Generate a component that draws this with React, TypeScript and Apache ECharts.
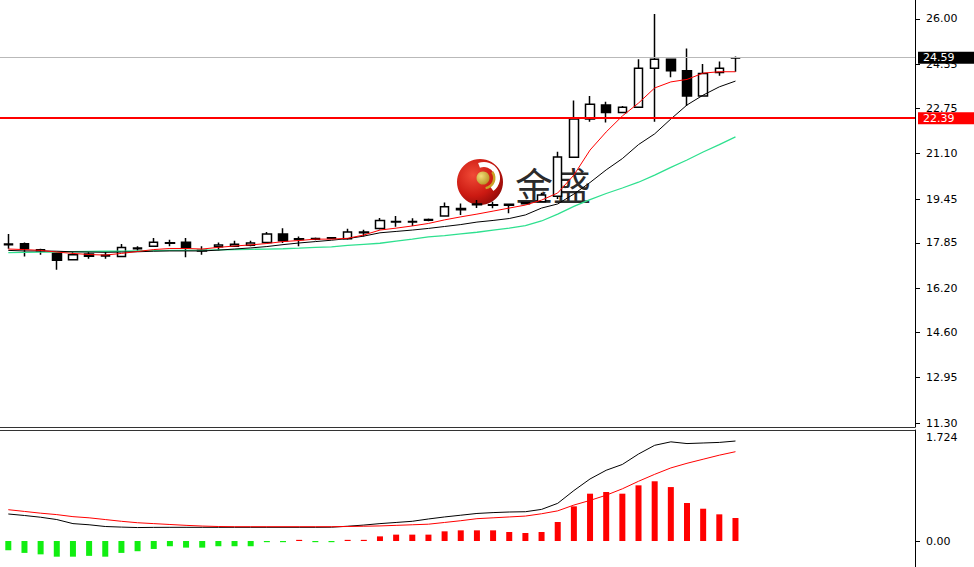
import React, { useEffect, useRef } from 'react';
import * as echarts from 'echarts';

// ---- Data ----
const OPEN = [17.79,17.82,17.60,17.48,17.24,17.45,17.40,17.36,17.64,17.73,17.84,17.88,17.56,17.71,17.73,17.77,17.87,18.18,17.98,17.99,18.02,18.00,18.22,18.38,18.61,18.61,18.68,18.83,19.06,19.24,19.22,19.22,19.28,19.35,19.55,20.97,22.36,22.87,22.60,22.79,24.21,24.53,24.12,23.20,24.05,24.58];
const CLOSE = [17.81,17.64,17.57,17.22,17.42,17.37,17.38,17.69,17.67,17.88,17.86,17.69,17.59,17.78,17.80,17.85,18.18,17.93,18.00,18.01,18.04,18.25,18.25,18.67,18.63,18.63,18.70,19.17,19.10,19.27,19.24,19.26,19.32,19.60,20.98,22.36,22.90,22.60,22.79,24.21,24.53,24.12,23.20,24.02,24.21,24.59];
const LOW = [17.64,17.36,17.42,16.88,17.24,17.28,17.28,17.34,17.55,17.72,17.73,17.33,17.42,17.58,17.72,17.73,17.86,17.85,17.73,17.95,18.00,17.97,18.09,18.34,18.44,18.47,18.64,18.82,18.87,19.12,19.11,18.93,19.26,19.32,19.45,20.95,22.26,22.23,22.57,22.77,22.26,23.88,22.83,23.19,23.93,24.08];
const HIGH = [18.18,17.87,17.64,17.51,17.52,17.55,17.55,17.81,17.73,18.03,17.97,18.03,17.73,17.87,17.93,17.93,18.25,18.39,18.09,18.05,18.06,18.37,18.33,18.76,18.83,18.75,18.74,19.32,19.29,19.41,19.35,19.28,19.34,19.68,21.17,23.03,23.20,22.99,22.83,24.53,26.18,24.54,24.93,24.36,24.45,24.63];

const MA_RED = [17.63,17.61,17.58,17.52,17.47,17.43,17.41,17.47,17.54,17.61,17.65,17.65,17.63,17.69,17.74,17.78,17.83,17.90,17.94,17.99,17.99,18.02,18.14,18.32,18.39,18.47,18.56,18.69,18.80,18.90,19.01,19.12,19.23,19.41,19.67,20.32,21.23,21.89,22.47,22.94,23.49,23.71,23.80,24.03,24.08,24.08];
const MA_BLACK = [17.58,17.56,17.56,17.55,17.53,17.52,17.51,17.52,17.53,17.55,17.56,17.56,17.56,17.59,17.63,17.67,17.72,17.79,17.85,17.90,17.95,18.01,18.10,18.22,18.27,18.32,18.38,18.45,18.52,18.61,18.67,18.74,18.87,19.12,19.27,19.63,20.05,20.51,20.92,21.43,21.82,22.36,22.87,23.23,23.53,23.74];
const MA_GREEN = [17.50,17.51,17.52,17.52,17.53,17.54,17.55,17.55,17.56,17.57,17.58,17.58,17.59,17.60,17.61,17.62,17.63,17.64,17.66,17.69,17.71,17.76,17.80,17.84,17.92,17.99,18.07,18.12,18.18,18.24,18.32,18.39,18.48,18.65,18.90,19.18,19.43,19.65,19.85,20.06,20.32,20.60,20.87,21.16,21.43,21.71];

const DIF = [0.466,0.44,0.41,0.37,0.30,0.28,0.25,0.24,0.232,0.235,0.236,0.236,0.236,0.236,0.236,0.236,0.236,0.236,0.236,0.236,0.238,0.255,0.275,0.30,0.32,0.34,0.38,0.415,0.445,0.475,0.49,0.50,0.505,0.545,0.65,0.87,1.07,1.22,1.32,1.50,1.65,1.71,1.68,1.69,1.70,1.724];
const DEA = [0.54,0.51,0.48,0.455,0.42,0.40,0.37,0.34,0.315,0.30,0.285,0.27,0.258,0.25,0.247,0.247,0.247,0.247,0.247,0.247,0.247,0.25,0.255,0.26,0.27,0.28,0.29,0.32,0.35,0.385,0.40,0.415,0.43,0.47,0.52,0.62,0.70,0.79,0.90,1.03,1.15,1.26,1.34,1.41,1.48,1.54];
const HIST = [-0.16,-0.205,-0.23,-0.27,-0.27,-0.256,-0.27,-0.205,-0.176,-0.137,-0.09,-0.114,-0.114,-0.09,-0.09,-0.09,-0.02,-0.02,0.02,-0.02,-0.02,0.02,0.02,0.08,0.11,0.11,0.11,0.167,0.184,0.184,0.184,0.155,0.138,0.155,0.328,0.598,0.816,0.845,0.816,0.96,1.03,0.93,0.655,0.557,0.46,0.397];

const PRICE_TICKS = [11.30, 12.95, 14.60, 16.20, 17.85, 19.45, 21.10, 22.75, 24.35, 26.00];
const MACD_TICKS = [0, 1.724];
const LAST_PRICE = 24.59;
const LEVEL_PRICE = 22.39;
const LOGO_TEXT = '金盛';

const FONT = 'DejaVu Sans';

export default function App() {
  const ref = useRef<HTMLDivElement>(null);

  useEffect(() => {
    if (!ref.current) return;
    const chart = echarts.init(ref.current, null, { renderer: 'svg' });

    const candleData = OPEN.map((o, i) => [i, o, CLOSE[i], LOW[i], HIGH[i]]);
    const pairs = (arr: number[]) => arr.map((v, i) => [i, v]);

    const xMin = -0.514;
    const xMax = 56.11;

    const xAxisBase = (gridIndex: number, position: string) => ({
      type: 'value',
      gridIndex,
      min: xMin,
      max: xMax,
      position,
      axisLine: { show: true, onZero: false, lineStyle: { color: '#333', width: 1 } },
      axisTick: { show: false },
      axisLabel: { show: false },
      splitLine: { show: false },
    });

    const option: any = {
      animation: false,
      backgroundColor: '#ffffff',
      grid: [
        { left: 0, top: 0, width: 915, height: 427 },
        { left: 0, top: 430, width: 915, height: 137 },
      ],
      xAxis: [xAxisBase(0, 'bottom'), xAxisBase(1, 'top')],
      yAxis: [
        {
          type: 'value',
          gridIndex: 0,
          position: 'right',
          min: 11.155,
          max: 26.69,
          axisLine: { show: true, onZero: false, lineStyle: { color: '#000', width: 1 } },
          axisTick: { show: true, length: 5, customValues: PRICE_TICKS, lineStyle: { color: '#000' } },
          axisLabel: {
            customValues: PRICE_TICKS,
            formatter: (v: number) => v.toFixed(2),
            margin: 11,
            color: '#000',
            fontFamily: FONT,
            fontSize: 11,
          },
          splitLine: { show: false },
        },
        {
          type: 'value',
          gridIndex: 1,
          position: 'right',
          min: -0.448,
          max: 1.914,
          axisLine: { show: true, onZero: false, lineStyle: { color: '#000', width: 1 } },
          axisTick: { show: true, length: 5, customValues: [0], lineStyle: { color: '#000' } },
          axisLabel: {
            customValues: MACD_TICKS,
            formatter: (v: number) => (v === 0 ? '{n|0.00}' : '{t|' + v.toFixed(3) + '}'),
            margin: 11,
            color: '#000',
            fontFamily: FONT,
            fontSize: 11,
            rich: {
              n: { fontFamily: FONT, fontSize: 11, color: '#000' },
              t: { fontFamily: FONT, fontSize: 11, color: '#000', padding: [0, 0, 8, 0] },
            },
          },
          splitLine: { show: false },
        },
      ],
      graphic: [
        {
          type: 'group',
          x: 480,
          y: 182,
          z: 0,
          children: [
            {
              type: 'circle',
              shape: { cx: 0, cy: 0, r: 23 },
              style: {
                fill: new echarts.graphic.RadialGradient(0.35, 0.35, 0.75, [
                  { offset: 0, color: '#f04a36' },
                  { offset: 0.6, color: '#cc1a12' },
                  { offset: 1, color: '#8e0a08' },
                ]),
              },
            },
            {
              type: 'sector',
              shape: { cx: 4, cy: -4, r0: 11, r: 16, startAngle: -Math.PI * 0.62, endAngle: Math.PI * 0.3, clockwise: true },
              style: { fill: '#ffffff' },
            },
            {
              type: 'sector',
              shape: { cx: 4, cy: -4, r0: 9, r: 11.5, startAngle: -Math.PI * 0.2, endAngle: Math.PI * 0.45, clockwise: true },
              style: { fill: '#c9a227' },
            },
            {
              type: 'circle',
              shape: { cx: 3, cy: -4, r: 6.5 },
              style: {
                fill: new echarts.graphic.RadialGradient(0.35, 0.35, 0.8, [
                  { offset: 0, color: '#f3dc7a' },
                  { offset: 1, color: '#b08a1a' },
                ]),
              },
            },
          ],
        },
        {
          type: 'text',
          x: 515,
          y: 183,
          z: 0,
          style: {
            text: LOGO_TEXT,
            font: '38px "Noto Sans CJK SC"',
            fill: '#2b2b2b',
            textVerticalAlign: 'middle',
            verticalAlign: 'middle',
          },
        },
      ],
      series: [
        {
          type: 'candlestick',
          xAxisIndex: 0,
          yAxisIndex: 0,
          data: candleData,
          barWidth: 9,
          z: 3,
          itemStyle: {
            color: '#ffffff',
            color0: '#000000',
            borderColor: '#000000',
            borderColor0: '#000000',
            borderWidth: 1.5,
          },
          markLine: {
            symbol: ['none', 'none'],
            silent: true,
            z: 5,
            data: [
              {
                yAxis: LAST_PRICE,
                lineStyle: { color: '#b9b9b9', width: 1, type: 'solid' },
                label: {
                  show: true,
                  position: 'end',
                  distance: 3,
                  formatter: LAST_PRICE.toFixed(2),
                  backgroundColor: '#000000',
                  color: '#ffffff',
                  padding: [1, 20, 0, 5],
                  fontFamily: FONT,
                  fontSize: 11,
                },
              },
              {
                yAxis: LEVEL_PRICE,
                lineStyle: { color: '#ff0000', width: 2, type: 'solid' },
                label: {
                  show: true,
                  position: 'end',
                  distance: 3,
                  formatter: LEVEL_PRICE.toFixed(2),
                  backgroundColor: '#ff0000',
                  color: '#ffffff',
                  padding: [1, 20, 0, 5],
                  fontFamily: FONT,
                  fontSize: 11,
                },
              },
            ],
          },
        },
        {
          type: 'line', xAxisIndex: 0, yAxisIndex: 0, data: pairs(MA_GREEN),
          showSymbol: false, symbol: 'none', z: 4,
          lineStyle: { color: '#2ee08f', width: 1.3 },
        },
        {
          type: 'line', xAxisIndex: 0, yAxisIndex: 0, data: pairs(MA_BLACK),
          showSymbol: false, symbol: 'none', z: 4,
          lineStyle: { color: '#000000', width: 1 },
        },
        {
          type: 'line', xAxisIndex: 0, yAxisIndex: 0, data: pairs(MA_RED),
          showSymbol: false, symbol: 'none', z: 4,
          lineStyle: { color: '#ff0000', width: 1 },
        },
        {
          type: 'bar', xAxisIndex: 1, yAxisIndex: 1, data: pairs(HIST),
          barWidth: 6,
          itemStyle: {
            color: (p: any) => (p.value[1] >= 0 ? '#ff0000' : '#11ee11'),
          },
        },
        {
          type: 'line', xAxisIndex: 1, yAxisIndex: 1, data: pairs(DIF),
          showSymbol: false, symbol: 'none', z: 4,
          lineStyle: { color: '#000000', width: 1 },
        },
        {
          type: 'line', xAxisIndex: 1, yAxisIndex: 1, data: pairs(DEA),
          showSymbol: false, symbol: 'none', z: 4,
          lineStyle: { color: '#ff0000', width: 1 },
        },
      ],
    };

    chart.setOption(option);
    return () => chart.dispose();
  }, []);

  return (
    <div
      ref={ref}
      style={{ position: 'fixed', left: 0, top: 0, width: 974, height: 567, background: '#fff' }}
    />
  );
}
